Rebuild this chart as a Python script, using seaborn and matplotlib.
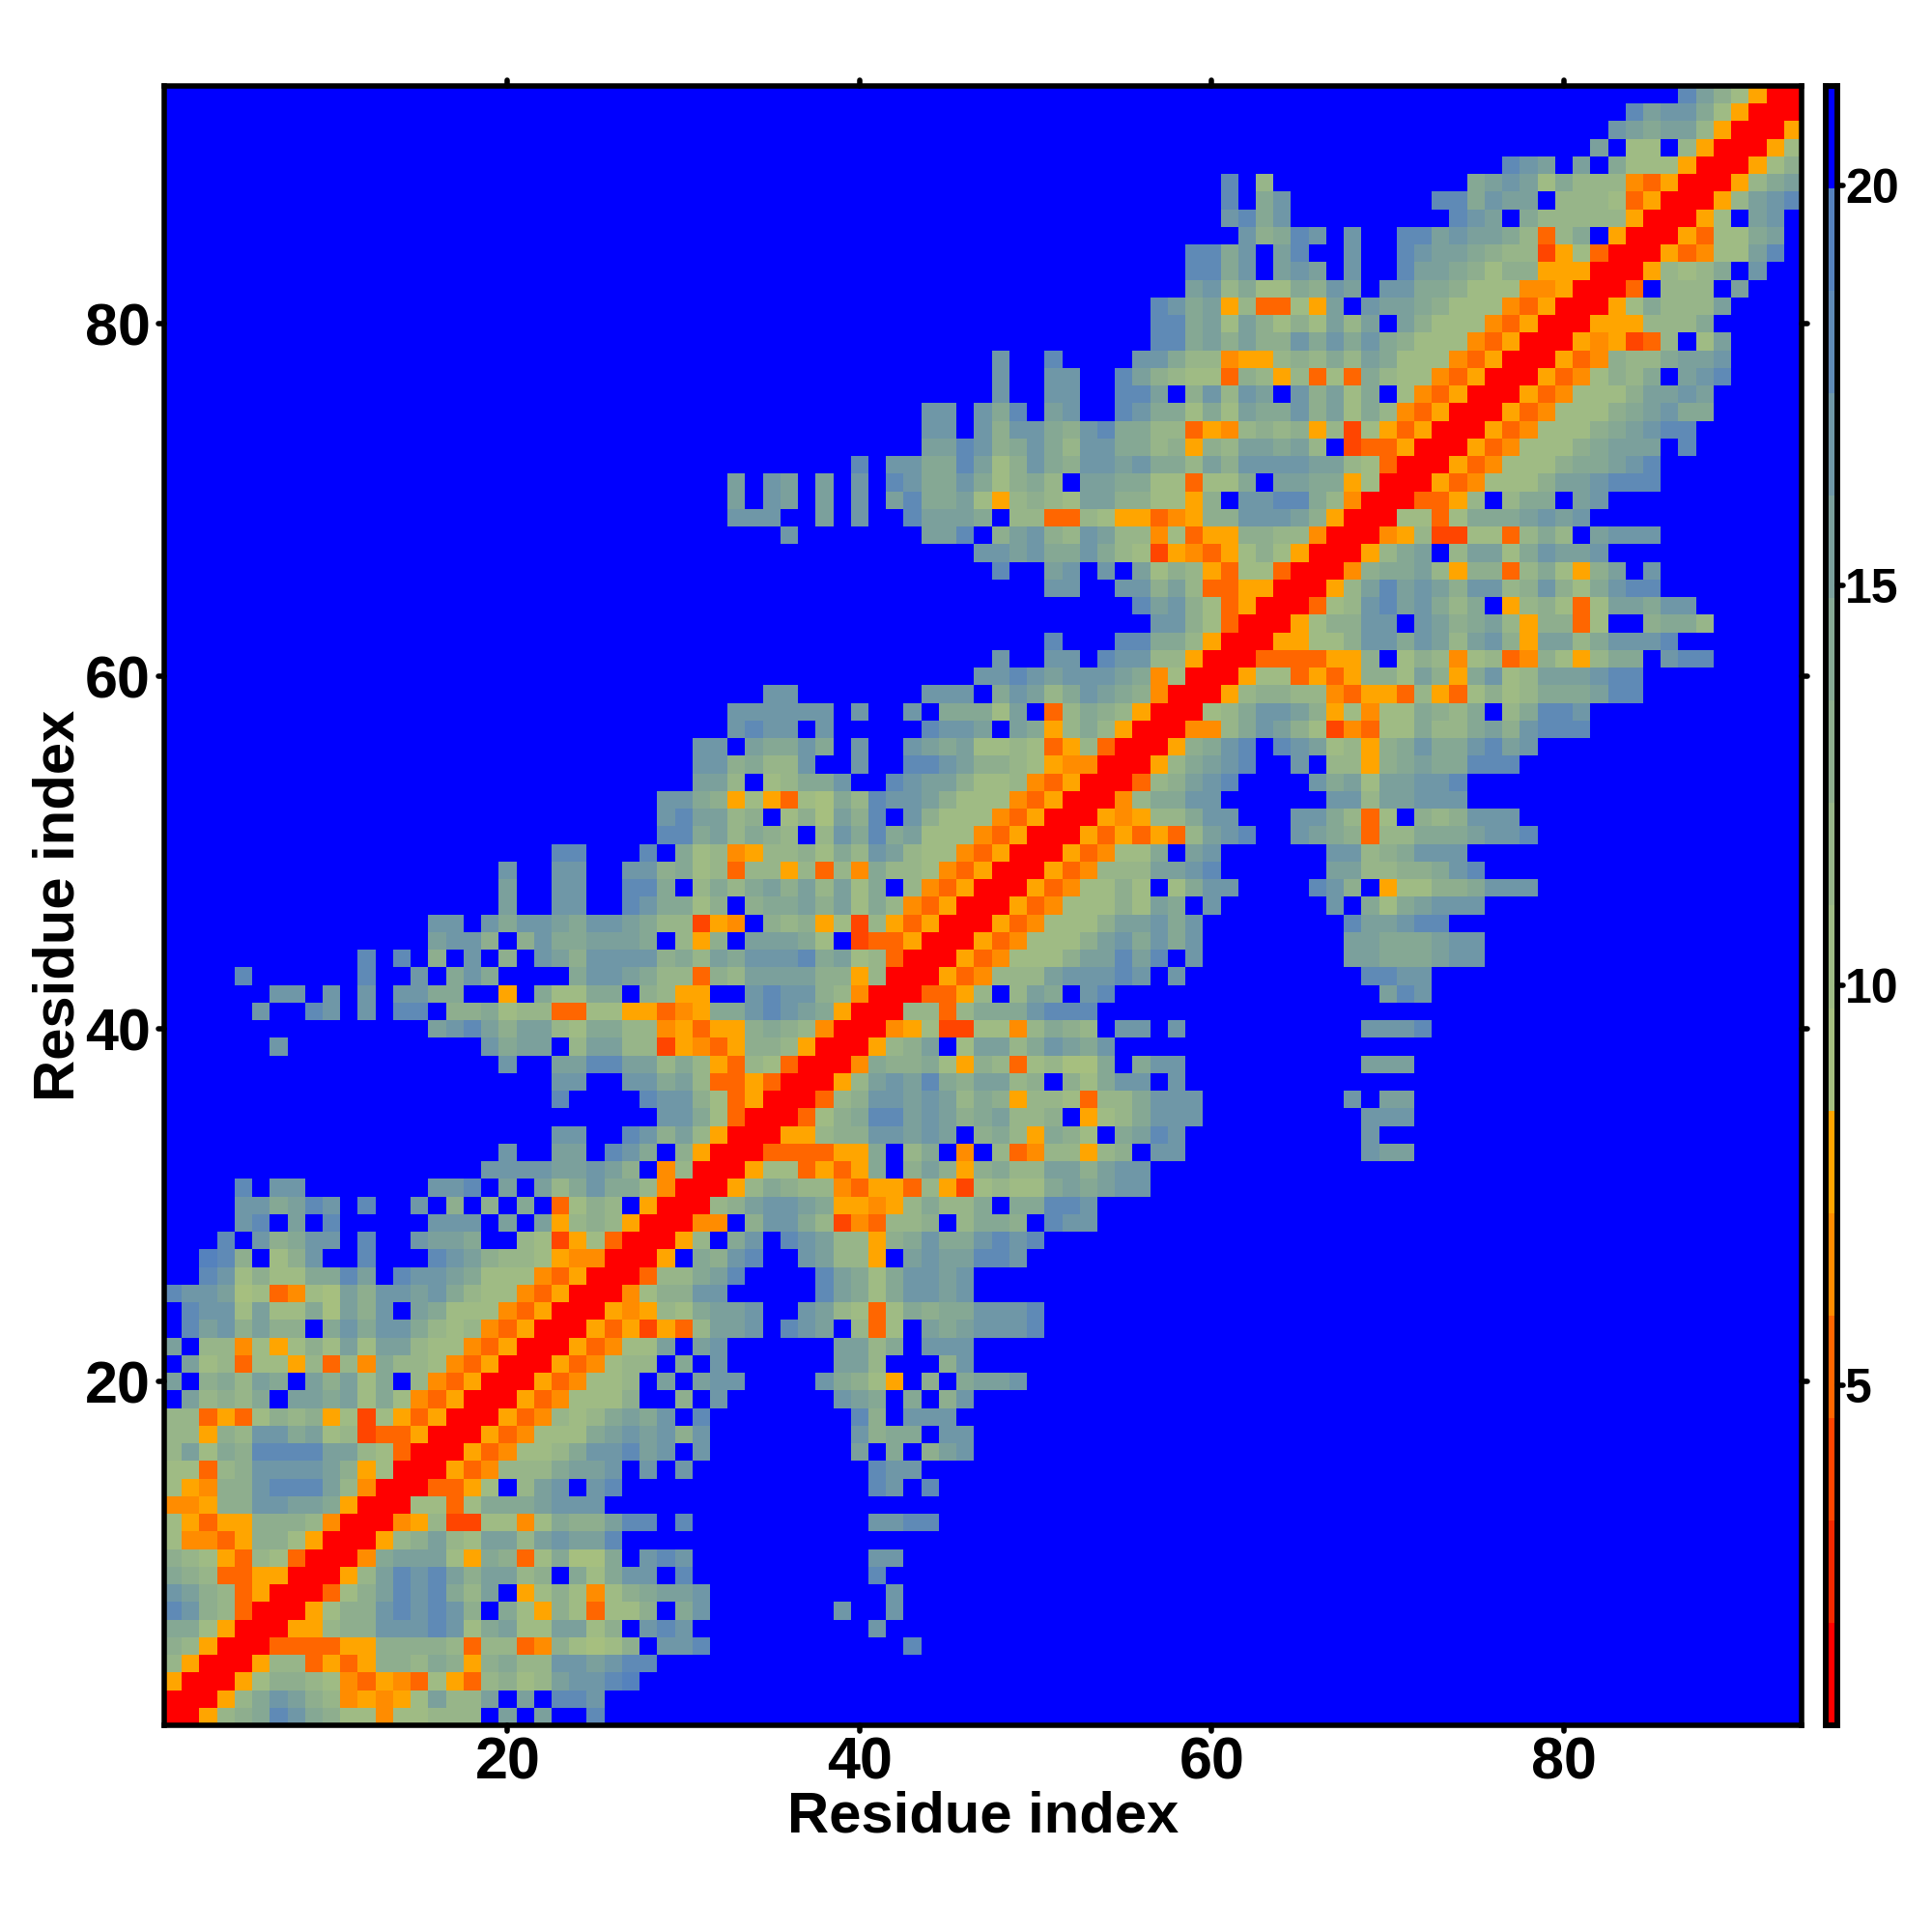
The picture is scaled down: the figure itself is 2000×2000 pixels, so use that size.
# -*- coding: utf-8 -*-
import numpy as np
import matplotlib
matplotlib.use('Agg')
import matplotlib.pyplot as plt
import seaborn as sns
from matplotlib.colors import ListedColormap
from matplotlib.markers import MarkerStyle

# contact map, one band per character (0 = nearest ... f = farthest)
# each row starts on the diagonal, the rest of the row is band f
upper_rows = [
    "00589adca977477888fbfbf fd",
    "0058acb9845457b88bfbfd dc",
    "00579987435437538978b ccde",
    "005883535998a959a88c cbcdd",
    "0033335599998388349 7679fccd fffffffffff d",
    "0055899cccdc7ab77b b79fcdcf fffffffff c",
    "005799cdcdc9fa759 73779fac fffffff cffc",
    "00379bdcda8bf579 7479abbc ffffffffff c",
    "0058bdcdb9bb89f a7accfdf fffffffff d",
    "004abbb75a937a 66afcdc ffffffffff cc",
    "00589b87bb8bc bbd",
    "00458227747a 99bddfd ffffffffff ccdd",
    "007737aaabc cc",
    "003357f8bc fcd ffffffffffffff dcfd",
    "00534888a bbcfcfc ffffffffff dcc",
    "00534778 accdbcfc ffffffff bfaf9bc",
    "0053477 7abcbc9c ffffffff c9aafcc",
    "005348 78abacfd ffffffff d9fcccf",
    "00534 7779ff9fc ffffff cbafaf9c",
    "0053 4778fbfbcc ffff ca975f9fab bc",
    "005 34788fafc ffffff bb8fff9cf",
    "00 53477bfbc ffffff bb8afcccf",
    "0 05352538bbcfdcbf837fbabc ccd",
    "0054587abbcffcb8737a9aac ccd",
    "004799cc fffff dba7accbcf",
    "00388abdffffdba7accbcf",
    "005fa9cdffcb885fbcbbd dc",
    "0058facfdcb8859acaac dcd",
    "0044f9cca8243889f8a a9fdcc",
    "0089bccba55458a88a faaddc",
    "0058a988435538527 877ababcc",
    "005773535af9b959 a88bb9bcc",
    "00333355af8af4f 83488589fcc ffffffffff cbb",
    "0055899ccbcbf9 a85a97fabdc ffffffffff c",
    "00379addbcb9a b889f578accc fffffffff ccc",
    "00389ccbcb8a 95887388accc ffffffff cfbb",
    "0058bcbda9b b89f97accfc",
    "004a99a759 837866afacc ffffffffff bbb",
    "00589bf7b b8acbac",
    "00457227 748a98fccfc ffffffffff cccd",
    "008838a aacddd",
    "003358 f8bafcd fffffffffffffff bdc",
    "00534 888bcccdcfc ffffffffff ddcc",
    "0053 47779bbdbdfc ffffffff bbaaabcc",
    "005 347779bcacac ffffffff bbaaabcc",
    "00 5347779bbcac ffffffff dbbcdd",
    "0 053477797bafc ffffff cfa 7abccc",
    "005347797f7acc ffff dc9f5 7799accc",
    "00534888bbcd ffffff bb88 99acd",
    "0053477afbc ffffff cc89 accc",
    "005353538bcdffcba938 8aaabccd",
    "0054588accfffcca837 f989ccc",
    "0048aacc ffffff cc8b bccc",
    "00389bcdffffcab7b bccd",
    "0058abcdffcf8859 abaaddd",
    "0059acdfdcb7859 acaacdbc",
    "00448acb972437 7a88ab9cddd",
    "0078accb95747 7a98af8addc",
    "005899884355 38537978aaabdd",
    "00577353599 7b95ac78bbbcdd",
    "003333559f 798478349758aafcdd",
    "0055779cc acb8bc95bb8acccd",
    "005799cc fcb9ab859937ff9aa8",
    "00378cd bca8af589737bbacc",
    "0058bd bcb9cc89c97acdd",
    "0049a ab859938a759bfc",
    "0058 abf8bb7acbbc",
    "004 58227738a8fbccc",
    "00 7737aaabcbc",
    "00 3358f8aafbc",
    "005347779bbcddd",
    "005347779aabcd",
    "005347779abbbfd",
    "005347779abcdd",
    "005347779abcaa",
    "005347779bbcb",
    "00534798afbcd",
    "00534988abbc",
    "00545238f7b",
    "00555888a",
    "0057a888b",
    "003f888fb",
    "005878afc",
    "0053477bd",
    "005377ab",
    "0057fbc",
    "0058bcd",
    "0058ab",
    "00579",
    "0057",
    "005",
    "00",
    "0",
]
band_colors = ['#FF0000', '#F52800', '#FF4500', '#FF6600', '#FF8C00', '#FFA500',
               '#A6BF7F', '#9FBB84', '#97B589', '#8EAE8E', '#85A894', '#7BA09C',
               '#6F97A7', '#5F8AB6', '#5582BD', '#0000FF']
ticks_main = [20, 40, 60, 80]
ticks_bar = [5, 10, 15, 20]
V_MIN, V_MAX = 0.75, 21.25
N = len(upper_rows)

band_h = (V_MAX - V_MIN) / len(band_colors)
dist = np.zeros((N, N))
for i, row in enumerate(upper_rows):
    row = row.replace(' ', '')
    row = row + 'f' * (N - i - len(row))
    for k, ch in enumerate(row[:N - i]):
        dist[i, i + k] = V_MIN + band_h * (int(ch, 16) + 0.5)
        dist[i + k, i] = dist[i, i + k]

plt.rcParams['font.family'] = ['Liberation Sans', 'DejaVu Sans']
plt.rcParams['font.weight'] = 'bold'

fig = plt.figure(figsize=(20, 20), dpi=100)
ax = fig.add_axes([170 / 2000, 1 - 1786 / 2000, 1695 / 2000, 1697 / 2000])
cax = fig.add_axes([1889.5 / 2000, 1 - 1786 / 2000, 12 / 2000, 1697 / 2000])

sns.heatmap(dist, ax=ax, cbar_ax=cax, cmap=ListedColormap(band_colors), vmin=V_MIN, vmax=V_MAX,
            xticklabels=False, yticklabels=False, square=False)
ax.set_ylim(0, N)
ax.set_xlim(0, N)

centers = [t - 0.5 for t in ticks_main]
ax.set_xticks(centers)
ax.set_xticklabels(ticks_main)
ax.set_yticks(centers)
ax.set_yticklabels(ticks_main)
ax.tick_params(axis='both', which='major', direction='out', length=4, width=4,
               top=True, right=True, labelsize=44, pad=4)
ax.tick_params(axis='y', pad=6)
for sp in ax.spines.values():
    sp.set_visible(True)
    sp.set_linewidth(4)
    sp.set_color('black')

ax.set_xlabel('Residue index', fontsize=43, fontweight='bold')
ax.set_ylabel('Residue index', fontsize=43, fontweight='bold')
ax.xaxis.set_label_coords(0.5, -0.0395)
ax.yaxis.set_label_coords(-0.048, 0.5)

cax.yaxis.set_ticks_position('right')
cax.set_yticks(ticks_bar)
cax.set_yticklabels(ticks_bar)
cax.tick_params(axis='y', which='major', direction='out', length=4, width=4, labelsize=36, pad=2)
cax.minorticks_off()
for sp in cax.spines.values():
    sp.set_visible(True)
    sp.set_linewidth(4)
    sp.set_color('black')

# round tick ends like the original
for a in (ax, cax):
    for tick in a.xaxis.get_major_ticks() + a.yaxis.get_major_ticks():
        for line in (tick.tick1line, tick.tick2line):
            line.set_marker(MarkerStyle(line.get_marker(), capstyle='round'))

plt.savefig('out.png', dpi=100)
